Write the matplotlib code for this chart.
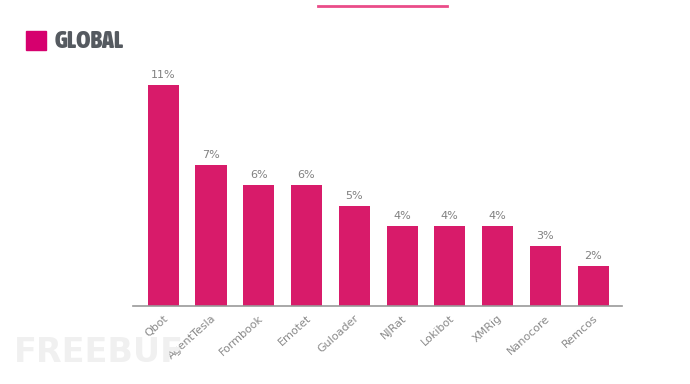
import matplotlib
matplotlib.use("Agg")
import matplotlib.pyplot as plt
from matplotlib.patches import Rectangle
from matplotlib.lines import Line2D
from matplotlib import font_manager

categories = ["Qbot", "AgentTesla", "Formbook", "Emotet", "Guloader",
              "NJRat", "Lokibot", "XMRig", "Nanocore", "Remcos"]
values = [11, 7, 6, 6, 5, 4, 4, 4, 3, 2]
value_labels = [f"{v}%" for v in values]
title = "GLOBAL"

pink = "#d81b6a"
fig = plt.figure(figsize=(6.9, 3.84), dpi=100)
ax = fig.add_axes([0.193, 0.203, 0.708, 0.628])

x = range(len(categories))
bars = ax.bar(x, values, width=0.65, color=pink, zorder=2)
for b, lab in zip(bars, value_labels):
    ax.text(b.get_x() + b.get_width() / 2, b.get_height() + 0.25, lab,
            ha="center", va="bottom", fontsize=8, color="#808080")

ax.set_xlim(-0.63, 9.6)
ax.set_ylim(0, 12)
ax.set_yticks([])
ax.set_xticks(list(x))
ax.set_xticklabels(categories, rotation=42, ha="right", rotation_mode="anchor",
                   fontsize=8, color="#8a8a8a")
ax.tick_params(axis="x", length=0, pad=5)
for s in ["top", "right", "left"]:
    ax.spines[s].set_visible(False)
ax.spines["bottom"].set_color("#999999")
ax.spines["bottom"].set_linewidth(1.2)

# header decorations
fig.add_artist(Line2D([318 / 690, 447 / 690], [1 - 6 / 384, 1 - 6 / 384],
                      color="#ea4c89", linewidth=2, transform=fig.transFigure))
fig.add_artist(Rectangle((26 / 690, 1 - 50 / 384), 20 / 690, 19 / 384,
                         color="#d6006e", transform=fig.transFigure))

cands = []
for f in font_manager.fontManager.ttflist:
    st = str(f.stretch)
    w = f.weight if isinstance(f.weight, int) else 400
    if ("ondensed" in st or "Condensed" in f.name or "Narrow" in f.name
            or "ondensed" in f.fname or "Narrow" in f.fname):
        italic = f.style != "normal" or "Oblique" in f.fname or "Italic" in f.fname
        cands.append((1 if italic else 0, 0 if w >= 600 else 1, f.name, f.fname))
cands.sort()
fp = font_manager.FontProperties(fname=cands[0][3]) if cands else \
    font_manager.FontProperties(family="DejaVu Sans", weight="bold")
fp.set_size(17.5)
fig.text(55 / 690, 1 - 42 / 384, title, fontproperties=fp,
         color="#555a60", va="center", ha="left")

# watermark
fig.text(14 / 690, 1 - 352 / 384, "FREEBUF", fontsize=24, fontweight="bold",
         color="#f0f0f0", va="center", ha="left", zorder=0)

fig.savefig("out.png", dpi=100)
